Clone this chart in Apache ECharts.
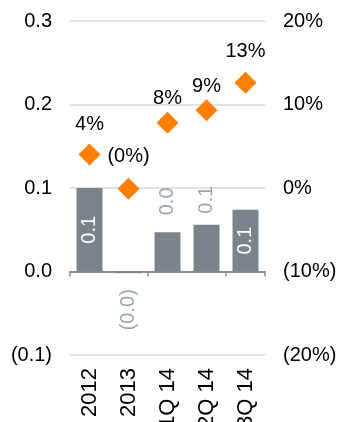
<!DOCTYPE html>
<html>
<head>
<meta charset="utf-8">
<script src="https://cdn.jsdelivr.net/npm/echarts@6/dist/echarts.min.js"></script>
<style>
  html, body { margin: 0; padding: 0; background: #fff; }
  #chart { width: 340px; height: 422px; }
</style>
</head>
<body>
<div id="chart"></div>
<script>
// Periods on the horizontal axis
const periods = ['2012', '2013', '1Q 14', '2Q 14', '3Q 14'];
// Bar values (left axis)
const barValues = [0.100, -0.002, 0.047, 0.056, 0.074];
// Growth rates in percent (right axis)
const growthPct = [4.0, -0.1, 7.8, 9.3, 12.6];
// Axis ranges and ticks
const leftTicks = [-0.1, 0.0, 0.1, 0.2, 0.3];
const rightTicks = [-20, -10, 0, 10, 20];
// Where each bar's value label sits
const barLabelPlacement = ['inside', 'bottom', 'top', 'top', 'inside'];
const barLabelDistance = [0, 16, 17, 11, 0];
// Gap between each diamond and its percentage label
const pctLabelDistance = [9, 11, 3, 3, 10];

const FONT = "'Liberation Sans', Arial, sans-serif";
const BAR = '#7b848d';
const ORANGE = '#ff8000';
const SOFT = '#9aa6b2';

function fmtNum(v) {
  const s = Math.abs(v).toFixed(1);
  return v < 0 ? '(' + s + ')' : s;
}
function fmtPct(v) {
  const s = Math.round(Math.abs(v)) + '%';
  return v < 0 ? '(' + s + ')' : s;
}
function fmtTickPct(v) {
  return v < 0 ? '(' + Math.abs(v) + '%)' : v + '%';
}

const barData = barValues.map((v, i) => {
  const pos = barLabelPlacement[i];
  const label = { position: pos, distance: barLabelDistance[i] };
  if (pos === 'inside') {
    Object.assign(label, { color: '#fff', align: 'center', verticalAlign: 'middle' });
  } else if (pos === 'top') {
    Object.assign(label, { color: SOFT, align: 'left', verticalAlign: 'middle' });
  } else {
    Object.assign(label, { color: SOFT, align: 'right', verticalAlign: 'middle' });
  }
  return { value: v, label };
});

const pctData = growthPct.map((v, i) => ({
  value: v,
  label: { distance: pctLabelDistance[i] }
}));

const chart = echarts.init(document.getElementById('chart'), null, { renderer: 'canvas' });
chart.setOption({
  animation: false,
  backgroundColor: '#fff',
  textStyle: { fontFamily: FONT },
  grid: { left: 70, right: 75, top: 21, bottom: 67, containLabel: false, outerBoundsMode: 'none' },
  xAxis: [
    {
      type: 'category',
      data: periods,
      position: 'bottom',
      axisLine: { show: true, onZero: true, lineStyle: { color: '#8a8f95', width: 2 } },
      axisTick: { show: true, length: 5, alignWithLabel: false, lineStyle: { color: '#8a8f95', width: 1.5 } },
      axisLabel: { show: false },
      splitLine: { show: false }
    },
    {
      type: 'category',
      data: periods,
      position: 'bottom',
      axisLine: { show: false, onZero: false },
      axisTick: { show: false },
      axisLabel: {
        show: true, rotate: 90, margin: 13,
        fontSize: 22, color: '#000', fontFamily: FONT
      },
      splitLine: { show: false }
    }
  ],
  yAxis: [
    {
      type: 'value',
      position: 'left',
      min: leftTicks[0],
      max: leftTicks[leftTicks.length - 1],
      interval: 0.1,
      axisLine: { show: false },
      axisTick: { show: false },
      axisLabel: {
        margin: 18, fontSize: 20, color: '#000', fontFamily: FONT,
        formatter: v => fmtNum(Math.round(v * 10) / 10)
      },
      splitLine: { show: true, lineStyle: { color: '#d3d8de', width: 1.5 } }
    },
    {
      type: 'value',
      position: 'right',
      min: rightTicks[0],
      max: rightTicks[rightTicks.length - 1],
      interval: 10,
      axisLine: { show: false },
      axisTick: { show: false },
      axisLabel: {
        margin: 18, fontSize: 20, color: '#000', fontFamily: FONT,
        formatter: fmtTickPct
      },
      splitLine: { show: false }
    }
  ],
  series: [
    {
      type: 'bar',
      xAxisIndex: 0,
      yAxisIndex: 0,
      data: barData,
      barWidth: 26,
      itemStyle: { color: BAR },
      label: {
        show: true, rotate: 90, fontSize: 20, fontFamily: FONT,
        formatter: p => fmtNum(p.value)
      },
      z: 2
    },
    {
      type: 'line',
      xAxisIndex: 0,
      yAxisIndex: 1,
      data: pctData,
      symbol: 'diamond',
      symbolSize: 22,
      showAllSymbol: true,
      lineStyle: { width: 0, opacity: 0 },
      itemStyle: { color: ORANGE },
      label: {
        show: true, position: 'top',
        fontSize: 20, color: '#000', fontFamily: FONT,
        formatter: p => fmtPct(p.value)
      },
      z: 5
    }
  ]
});
</script>
</body>
</html>
